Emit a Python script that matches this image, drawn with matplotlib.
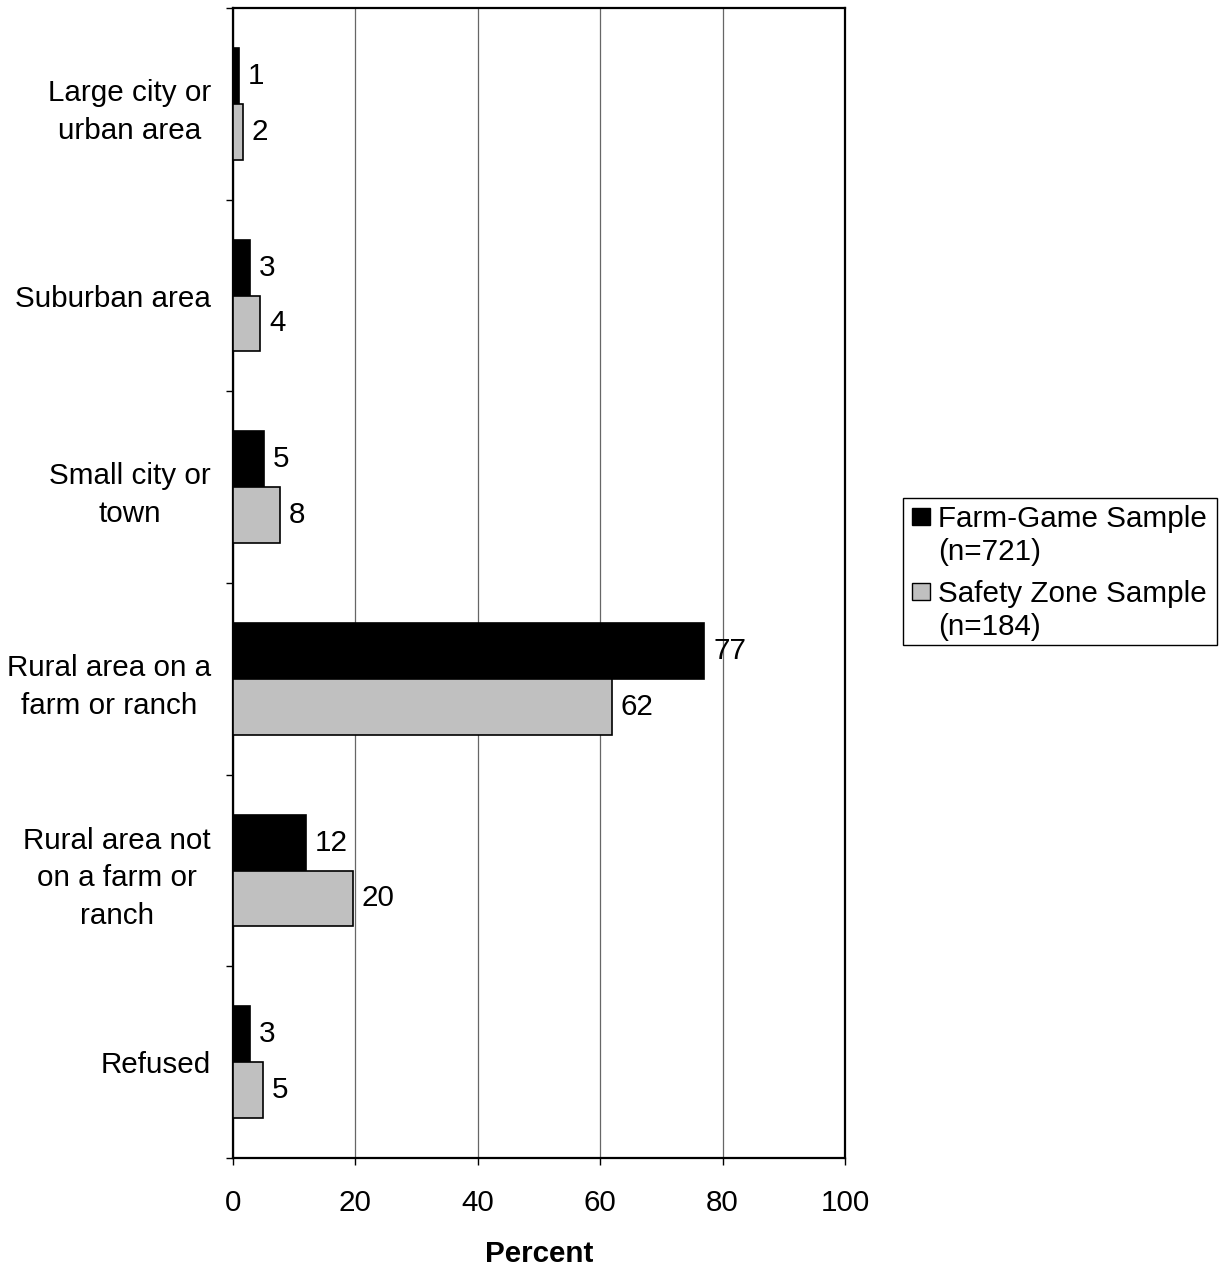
import matplotlib
matplotlib.use("Agg")
import matplotlib.pyplot as plt
from matplotlib.patches import Rectangle
import numpy as np

plt.rcParams['font.family'] = ['Liberation Sans', 'DejaVu Sans']

categories = [
    "Large city or\nurban area",
    "Suburban area",
    "Small city or\ntown",
    "Rural area on a\nfarm or ranch",
    "Rural area not\non a farm or\nranch",
    "Refused",
]
farm_game = [1.0, 2.7, 5.1, 77.0, 11.9, 2.8]
safety_zone = [1.6, 4.4, 7.7, 61.9, 19.6, 4.9]
series_names = ["Farm-Game Sample\n(n=721)", "Safety Zone Sample\n(n=184)"]
x_ticks = [0, 20, 40, 60, 80, 100]

FS = 21.3
fig = plt.figure(figsize=(12.25, 12.66), dpi=100)
ax = fig.add_axes([233 / 1225, 1 - 1158 / 1266, 612 / 1225, 1150 / 1266])

n = len(categories)
y = np.arange(n)
h = 0.292
ax.barh(y - h / 2, farm_game, height=h, color="black", edgecolor="black", linewidth=1.2, zorder=3)
ax.barh(y + h / 2, safety_zone, height=h, color="#c0c0c0", edgecolor="black", linewidth=1.2, zorder=3)

for yi, v in zip(y, farm_game):
    ax.annotate(f"{v:.0f}", (v, yi - h / 2), xytext=(9, 0), textcoords="offset pixels",
                ha="left", va="center", fontsize=FS)
for yi, v in zip(y, safety_zone):
    ax.annotate(f"{v:.0f}", (v, yi + h / 2), xytext=(9, 0), textcoords="offset pixels",
                ha="left", va="center", fontsize=FS)

ax.set_xlim(0, 100)
ax.set_ylim(n - 0.5, -0.5)
ax.set_xticks(x_ticks)
ax.set_xticklabels([str(t) for t in x_ticks], fontsize=FS)
ax.tick_params(axis="x", length=5, width=1, pad=17, direction="out")

ax.set_yticks(y)
ax.set_yticklabels(categories, fontsize=FS)
for lbl in ax.get_yticklabels():
    lbl.set_multialignment("center")
    lbl.set_linespacing(1.45)
ax.tick_params(axis="y", which="major", length=0, pad=16)
ax.set_yticks(np.arange(n + 1) - 0.5, minor=True)
ax.tick_params(axis="y", which="minor", length=5, width=1, direction="out")

ax.xaxis.grid(True, color="#666666", linewidth=0.9, zorder=0)
ax.set_axisbelow(True)
for s in ax.spines.values():
    s.set_linewidth(1.6)
    s.set_color("black")

ax.set_xlabel("Percent", fontsize=FS, fontweight="bold", labelpad=17)

# legend box drawn in figure coordinates
W, H = 1225, 1266
def fx(px):
    return px / W
def fy(py):
    return 1 - py / H

fig.patches.append(Rectangle((fx(903), fy(645)), fx(1217) - fx(903), fy(498) - fy(645),
                             transform=fig.transFigure, facecolor="white",
                             edgecolor="black", linewidth=1.0))
colors = ["black", "#c0c0c0"]
top_y = [517, 592]
for name, c, ty in zip(series_names, colors, top_y):
    fig.patches.append(Rectangle((fx(912), fy(ty + 8)), fx(930) - fx(912), fy(ty - 9) - fy(ty + 8),
                                 transform=fig.transFigure, facecolor=c,
                                 edgecolor="black", linewidth=1.0))
    fig.text(fx(938), fy(ty - 12), name, fontsize=FS, ha="left", va="top", linespacing=1.25)

fig.savefig("out.png", dpi=100, facecolor="white")
